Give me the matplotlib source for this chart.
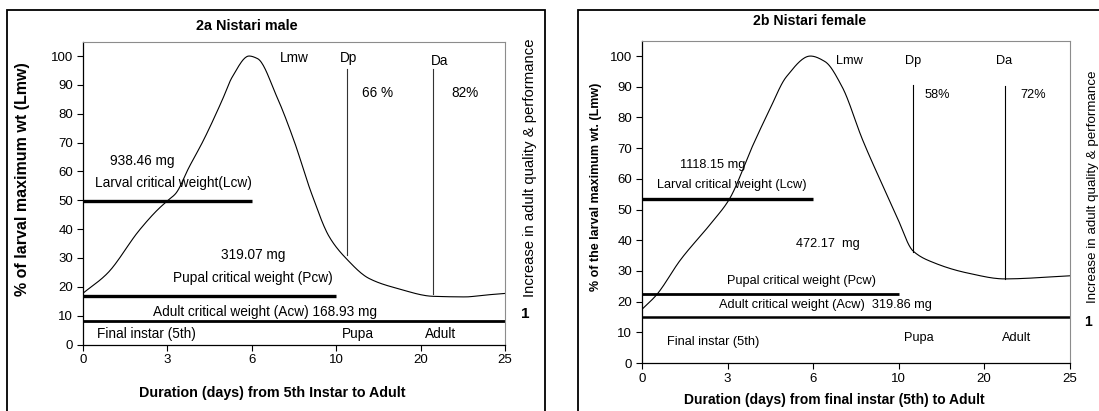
import numpy as np
import matplotlib.pyplot as plt
from matplotlib.patches import Rectangle

plt.rcParams['font.family'] = ['Liberation Sans', 'DejaVu Sans']

# x axis is categorical: positions 0..5 labelled with days
tick_labels = ['0', '3', '6', '10', '20', '25']
y_ticks = [0, 10, 20, 30, 40, 50, 60, 70, 80, 90, 100]

# 2a Nistari male: % of larval maximum weight (x = axis position)
male_x = [0, 0.29, 0.67, 0.88, 1.01, 1.10, 1.26, 1.43, 1.65, 1.77, 1.97, 2.07,
          2.30, 2.50, 2.71, 2.92, 3.12, 3.39, 3.73, 4.15, 4.53, 4.75, 5.0]
male_y = [17.7, 24.6, 39.6, 46.5, 50.0, 52.3, 61.5, 70.8, 84.6, 92.7, 100, 99.1,
          85.8, 70.8, 52.3, 37.3, 29.8, 22.9, 19.4, 16.7, 16.5, 17.1, 17.7]
male_lcw = 49.7
male_pcw = 16.8
male_acw = 8.3
male_dp = (3.13, 30.9, 95.4)   # x, bottom, top
male_da = (4.15, 17.6, 95.4)

# 2b Nistari female
female_x = [0, 0.17, 0.45, 0.81, 1.02, 1.29, 1.49, 1.69, 1.97, 2.14, 2.34,
            2.58, 2.82, 2.98, 3.17, 3.42, 3.81, 4.24, 5.0]
female_y = [17.5, 22.2, 33.6, 45.6, 53.3, 70.5, 82.4, 93.3, 100, 98.2, 90,
            72.7, 57.5, 47.7, 36.5, 32.6, 29.3, 27.4, 28.4]
female_lcw = 53.3
female_pcw = 22.4
female_acw = 14.9
female_dp = (3.17, 36.3, 90.5)
female_da = (4.24, 27.4, 90.3)


def smooth(x, y, n=20):
    # monotone cubic (pchip) through the points, no overshoot
    x = np.asarray(x, float)
    y = np.asarray(y, float)
    h = np.diff(x)
    d = np.diff(y) / h
    m = np.zeros_like(y)
    for k in range(1, len(x) - 1):
        if d[k - 1] * d[k] > 0:
            w1 = 2 * h[k] + h[k - 1]
            w2 = h[k] + 2 * h[k - 1]
            m[k] = (w1 + w2) / (w1 / d[k - 1] + w2 / d[k])
    m[0] = d[0]
    m[-1] = d[-1]
    ox, oy = [], []
    t = np.linspace(0, 1, n, endpoint=False)
    for k in range(len(x) - 1):
        h00 = 2 * t ** 3 - 3 * t ** 2 + 1
        h10 = t ** 3 - 2 * t ** 2 + t
        h01 = -2 * t ** 3 + 3 * t ** 2
        h11 = t ** 3 - t ** 2
        ox.extend(x[k] + t * h[k])
        oy.extend(h00 * y[k] + h10 * h[k] * m[k] + h01 * y[k + 1] + h11 * h[k] * m[k + 1])
    ox.append(x[-1])
    oy.append(y[-1])
    return ox, oy


fig = plt.figure(figsize=(10.99, 4.11), dpi=100)

# outer frames of the two panels
fig.patches.append(Rectangle((7 / 1099, -0.05), 538 / 1099, 1 - 10 / 411 + 0.05,
                             transform=fig.transFigure, fill=False, lw=1.3, ec='black'))
fig.patches.append(Rectangle((578 / 1099, -0.05), 0.5, 1 - 10 / 411 + 0.05,
                             transform=fig.transFigure, fill=False, lw=1.3, ec='black'))


def setup(ax):
    ax.set_xlim(0, 5)
    ax.set_ylim(0, 105)
    ax.set_xticks(range(6))
    ax.set_xticklabels(tick_labels)
    ax.set_yticks(y_ticks)
    ax.tick_params(labelsize=9.5, length=4, width=0.8, direction='out', pad=3)
    for s in ['top', 'right']:
        ax.spines[s].set_color('#8c8c8c')
        ax.spines[s].set_linewidth(0.8)
    for s in ['left', 'bottom']:
        ax.spines[s].set_linewidth(0.9)


# ---------- 2a male ----------
ax1 = fig.add_axes([82.7 / 1099, 1 - 344.5 / 411, 422.3 / 1099, 302.9 / 411])
setup(ax1)
ax1.plot(*smooth(male_x, male_y), color='black', lw=0.8)
ax1.plot([0, 2], [male_lcw, male_lcw], color='black', lw=2.4, solid_capstyle='butt')
ax1.plot([0, 3], [male_pcw, male_pcw], color='black', lw=2.4, solid_capstyle='butt')
ax1.plot([0, 5], [male_acw, male_acw], color='black', lw=2.0, solid_capstyle='butt', clip_on=False)
ax1.plot([male_dp[0]] * 2, male_dp[1:], color='#333333', lw=0.8)
ax1.plot([male_da[0]] * 2, male_da[1:], color='#333333', lw=0.8)

t = dict(ha='center', va='center', fontsize=9.8)
ax1.text(0.71, 63.5, '938.46 mg', **t)
ax1.text(1.07, 56, 'Larval critical weight(Lcw)', **t)
ax1.text(2.02, 30.9, '319.07 mg', **t)
ax1.text(2.02, 23.1, 'Pupal critical weight (Pcw)', **t)
ax1.text(2.16, 11.3, 'Adult critical weight (Acw) 168.93 mg', **t)
ax1.text(0.76, 3.8, 'Final instar (5th)', **t)
ax1.text(3.26, 3.8, 'Pupa', **t)
ax1.text(4.24, 3.8, 'Adult', **t)
ax1.text(2.50, 99.4, 'Lmw', **t)
ax1.text(3.15, 99.4, 'Dp', **t)
ax1.text(4.23, 98.3, 'Da', **t)
ax1.text(3.49, 87.3, '66 %', **t)
ax1.text(4.53, 87.3, '82%', **t)
ax1.text(5.24, 10.5, '1', ha='center', va='center', fontsize=11, fontweight='bold', clip_on=False)
ax1.text(5.30, 61.3, 'Increase in adult quality & performance', ha='center', va='center',
         rotation=90, fontsize=10.7, clip_on=False)
fig.text(246.6 / 1099, 1 - 26 / 411, '2a Nistari male', ha='center', va='center',
         fontsize=10.4, fontweight='bold')
ax1.set_xlabel('Duration (days) from 5th Instar to Adult', fontsize=10.3, fontweight='bold',
               labelpad=14, x=0.45)
ax1.set_ylabel('% of larval maximum wt (Lmw)', fontsize=11.5, fontweight='bold')
ax1.yaxis.set_label_coords(-52.7 / 422.3, 57.5 / 105)

# ---------- 2b female ----------
ax2 = fig.add_axes([642 / 1099, 1 - 363 / 411, 427.5 / 1099, 322.3 / 411])
setup(ax2)
ax2.plot(*smooth(female_x, female_y), color='black', lw=0.8)
ax2.plot([0, 2], [female_lcw, female_lcw], color='black', lw=2.4, solid_capstyle='butt')
ax2.plot([0, 3], [female_pcw, female_pcw], color='black', lw=2.0, solid_capstyle='butt')
ax2.plot([0, 5], [female_acw, female_acw], color='black', lw=1.8, solid_capstyle='butt', clip_on=False)
ax2.plot([female_dp[0]] * 2, female_dp[1:], color='black', lw=0.8)
ax2.plot([female_da[0]] * 2, female_da[1:], color='black', lw=0.8)

t2 = dict(ha='center', va='center', fontsize=9.2)
ax2.text(0.83, 64.5, '1118.15 mg', **t2)
ax2.text(1.05, 58, 'Larval critical weight (Lcw)', **t2)
ax2.text(2.17, 38.7, '472.17  mg', **t2)
ax2.text(1.86, 26.6, 'Pupal critical weight (Pcw)', **t2)
ax2.text(2.14, 19, 'Adult critical weight (Acw)  319.86 mg', **t2)
ax2.text(0.83, 7, 'Final instar (5th)', **t2)
ax2.text(3.24, 8.1, 'Pupa', **t2)
ax2.text(4.38, 8.1, 'Adult', **t2)
ax2.text(2.43, 98.5, 'Lmw', **t2)
ax2.text(3.17, 98.5, 'Dp', **t2)
ax2.text(4.24, 98.5, 'Da', **t2)
ax2.text(3.45, 87.3, '58%', **t2)
ax2.text(4.58, 87.3, '72%', **t2)
ax2.text(5.22, 13.5, '1', ha='center', va='center', fontsize=10, fontweight='bold', clip_on=False)
ax2.text(5.27, 57.5, 'Increase in adult quality & performance', ha='center', va='center',
         rotation=90, fontsize=9.6, clip_on=False)
fig.text(809.5 / 1099, 1 - 21 / 411, '2b Nistari female', ha='center', va='center',
         fontsize=10.2, fontweight='bold')
ax2.set_xlabel('Duration (days) from final instar (5th) to Adult', fontsize=10,
               fontweight='bold', labelpad=6, x=0.45)
ax2.set_ylabel('% of the larval maximum wt. (Lmw)', fontsize=9, fontweight='bold')
ax2.yaxis.set_label_coords(-40 / 427.5, 57.3 / 105)

fig.savefig('out.png', dpi=100)
